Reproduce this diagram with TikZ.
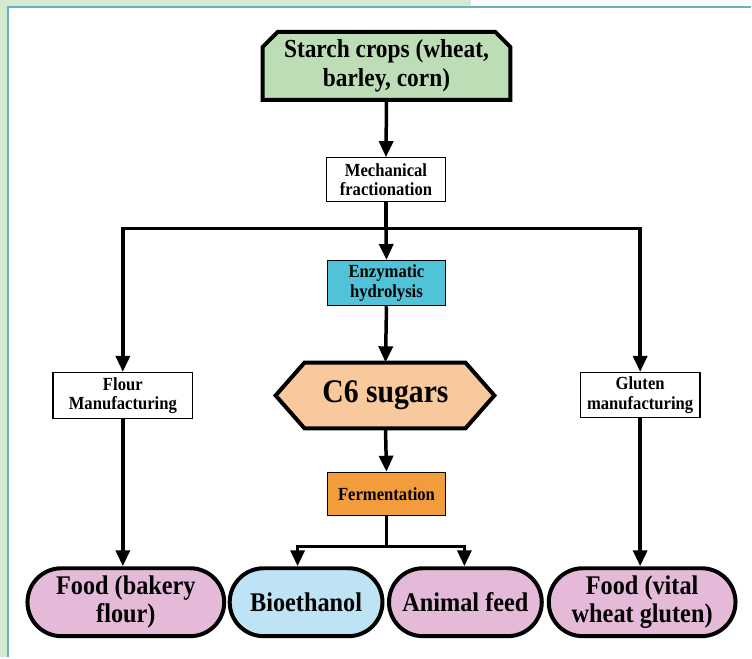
\documentclass[tikz,border=0pt]{standalone}
\usepackage{fontspec}
\setmainfont{Liberation Serif}[FakeStretch=0.9]
\usetikzlibrary{arrows.meta,shapes.misc,calc}

\definecolor{bggreen}{RGB}{213,233,208}
\definecolor{panelblue}{RGB}{106,174,198}
\definecolor{starchgreen}{RGB}{188,221,181}
\definecolor{enzcyan}{RGB}{80,195,216}
\definecolor{sugarorange}{RGB}{248,201,156}
\definecolor{fermorange}{RGB}{243,156,62}
\definecolor{foodpink}{RGB}{229,186,216}
\definecolor{fuelblue}{RGB}{190,227,245}

\begin{document}
\begin{tikzpicture}[x=1pt,y=-1pt,
  arr/.style={line width=3.5pt,line join=miter,-{Triangle[length=16pt,width=14pt]}},
  link/.style={line width=3.5pt,line join=miter},
  stepbox/.style={draw,line width=1.3pt,inner sep=0pt,align=center,
    font=\bfseries\fontsize{18.5}{19.5}\selectfont},
  endbox/.style={rounded rectangle,draw,line width=4pt,inner sep=0pt,
    minimum height=68pt,align=center,
    font=\bfseries\fontsize{27}{28.5}\selectfont},
  bigtext/.style={inner sep=0pt,align=center}
]
% page and panel
\fill[white] (0,0) rectangle (752,658);
\fill[bggreen] (0,0) rectangle (472,7);
\fill[bggreen] (0,0) rectangle (8,658);
\draw[panelblue,line width=2pt] (8,658) -- (8,7) -- (752,7);
\useasboundingbox (0,0) rectangle (752,658);

% source: chamfered top box
\filldraw[fill=starchgreen,line width=4pt,line join=miter]
  (263,100) -- (263,47) -- (278,32) -- (496,32) -- (511,47) -- (511,100) -- cycle;
\node[bigtext,minimum width=248pt,minimum height=68pt,
  font=\bfseries\fontsize{26}{28.5}\selectfont] (starch) at (387,66)
  {Starch crops (wheat,\\barley, corn)};

% processing steps
\node[stepbox,fill=white,minimum width=119pt,minimum height=44pt] (mech) at (386.5,180)
  {Mechanical\\fractionation};
\node[stepbox,fill=enzcyan,minimum width=118pt,minimum height=45pt] (enz) at (387,283.5)
  {Enzymatic\\hydrolysis};
\node[stepbox,fill=white,minimum width=140pt,minimum height=46pt] (flour) at (123,396)
  {Flour\\Manufacturing};
\node[stepbox,fill=white,minimum width=120pt,minimum height=45pt] (gluten) at (641,395.5)
  {Gluten\\manufacturing};
\node[stepbox,fill=fermorange,minimum width=118pt,minimum height=43pt] (ferm) at (387,494.5)
  {Fermentation};

% sugar hexagon
\filldraw[fill=sugarorange,line width=4pt,line join=miter]
  (276,396) -- (305,363) -- (466,363) -- (495,396) -- (466,429) -- (305,429) -- cycle;
\node[bigtext,minimum width=219pt,minimum height=66pt,
  font=\bfseries\fontsize{33}{36}\selectfont] (sugar) at (386,396) {C6 sugars};

% products
\node[endbox,fill=foodpink,minimum width=197pt] (bakery) at (126,603)
  {Food (bakery\\flour)};
\node[endbox,fill=fuelblue,minimum width=153pt] (bio) at (306.5,603)
  {Bioethanol};
\node[endbox,fill=foodpink,minimum width=153pt] (feed) at (466,603)
  {Animal feed};
\node[endbox,fill=foodpink,minimum width=187pt] (vital) at (643,603)
  {Food (vital\\wheat gluten)};

% junction points
\coordinate (split) at (386.5,229);
\coordinate (fsplit) at (387,547);
\coordinate (bioin) at (298,567);
\coordinate (feedin) at (465,567);

% connectors
\draw[arr] (starch.south) -- (mech.north);
\draw[link] (mech.south) -- (split);
\draw[arr] (split) -- (enz.north);
\draw[arr] (split) -| (flour.north);
\draw[arr] (split) -| (gluten.north);
\draw[arr] (enz.south) -- (sugar.north);
\draw[arr] (sugar.south) -- (ferm.north);
\draw[link] (ferm.south) -- (fsplit);
\draw[arr] (fsplit) -| (bioin);
\draw[arr] (fsplit) -| (feedin);
\draw[arr] (flour.south) -- (flour.south |- bakery.north);
\draw[arr] (gluten.south) -- (gluten.south |- vital.north);
\end{tikzpicture}
\end{document}
